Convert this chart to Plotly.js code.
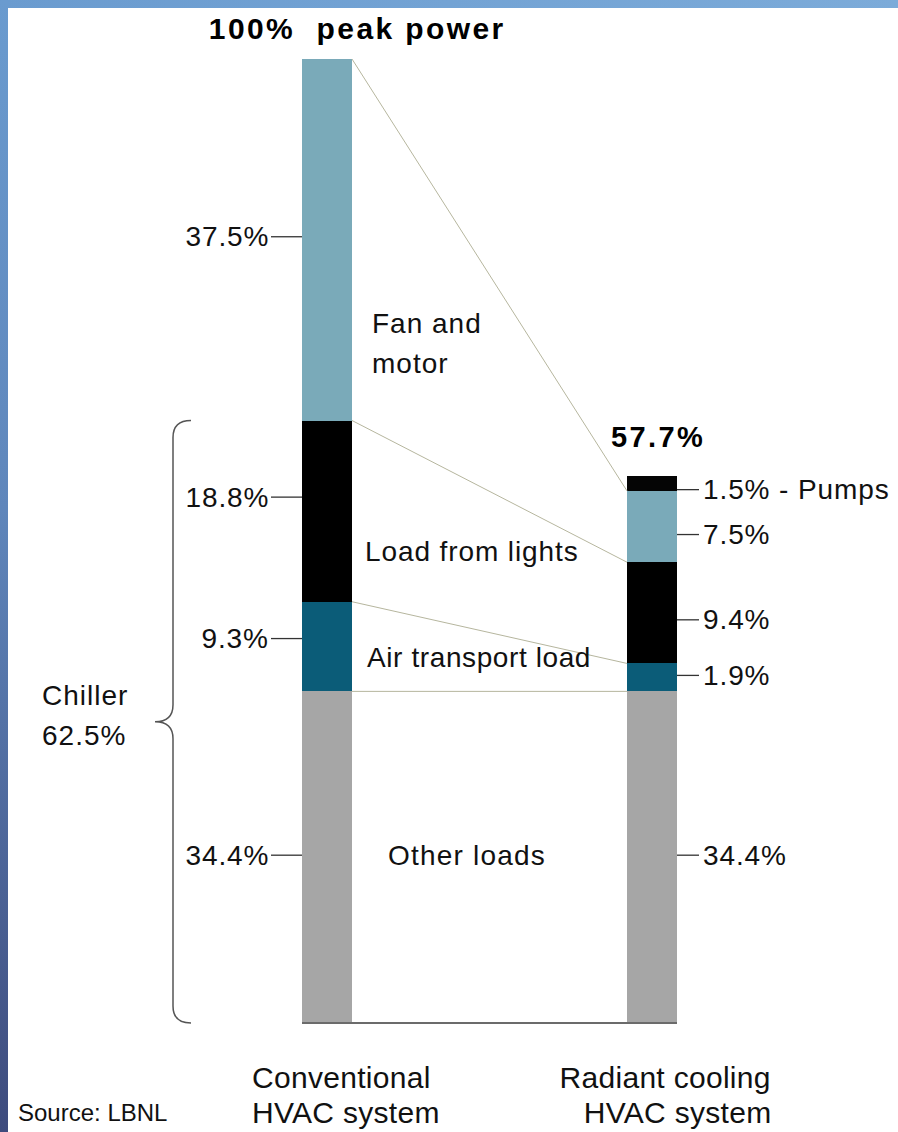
<!DOCTYPE html>
<html>
<head>
<meta charset="utf-8">
<script src="https://cdn.plot.ly/plotly-3.0.1.min.js"></script>
<style>
html,body{margin:0;padding:0;background:#fff;}
#chart{
  width:898px;height:1132px;
  background:
    linear-gradient(#ffffff,#ffffff) 8px 8px / calc(100% - 8px) calc(100% - 8px) no-repeat,
    linear-gradient(to bottom,#6a9bcf 0%,#5f86bb 45%,#3e4b7d 100%) 0 0 / 8px 100% no-repeat,
    linear-gradient(to right,#6a9bcf,#7cabd9) 0 0 / 100% 8px no-repeat;
}
</style>
</head>
<body>
<div id="chart"></div>
<script>
// ---------------- data ----------------
const systems = ['Conventional HVAC system', 'Radiant cooling HVAC system'];
const xPos = [0, 1];
const components = ['Other loads', 'Air transport load', 'Load from lights', 'Fan and motor', 'Pumps'];
const conventional = [34.4, 9.3, 18.8, 37.5, 0];
const radiant = [34.4, 2.9, 10.5, 7.4, 1.5];
const convLabels = ['34.4%', '9.3%', '18.8%', '37.5%'];
const radLabels = ['34.4%', '1.9%', '9.4%', '7.5%', '1.5% - Pumps'];
const convTotalLabel = '100%\u00a0 peak power';
const radTotalLabel = '57.7%';
const chillerLabel = ['Chiller', '62.5%'];
const sourceLabel = 'Source: LBNL';

// ---------------- styles / geometry ----------------
const colors = ['#a6a6a6', '#0b5c78', '#000000', '#7aaab9', '#050505'];
const W = 898, H = 1132;
const X0 = 327, XS = 325;     // pixel of x=0, pixels per x unit
const Y0 = 1023, YS = 9.64;   // pixel of y=0, pixels per percent
const xd = px => (px - X0) / XS;
const yd = py => (Y0 - py) / YS;
const barW = 50 / XS;
const FONT = 'Liberation Sans, Arial, sans-serif';
const convNudge = [2, 8, 14, 3];        // px, label fine-tuning
const radNudge = [2, 2, -7, -8, -6];

const cum = arr => { let s = 0; return arr.map(v => (s += v)); };
const cConv = cum(conventional);
const cRad = cum(radiant);

const traces = [];
// connector lines between matching segment tops
for (let k = 0; k < 4; k++) {
  traces.push({
    type: 'scatter', mode: 'lines', hoverinfo: 'skip',
    x: [xPos[0] + barW / 2, xPos[1] - barW / 2],
    y: [cConv[k], cRad[k]],
    line: {color: '#b6b69e', width: 1}
  });
}
// stacked bars
components.forEach((name, i) => {
  traces.push({
    type: 'bar', name: name,
    x: xPos, y: [conventional[i], radiant[i]],
    width: barW,
    marker: {color: colors[i], line: {width: 0}},
    hoverinfo: 'skip'
  });
});
// baseline
traces.push({
  type: 'scatter', mode: 'lines', hoverinfo: 'skip',
  x: [xPos[0] - barW / 2, xPos[1] + barW / 2], y: [0, 0],
  line: {color: '#6b6b6b', width: 2}
});

const shapes = [];
const annotations = [];
const spacing = [];
function addText(text, x, y, opts, ls) {
  annotations.push(Object.assign({
    text: text, x: x, y: y, xref: 'x', yref: 'y', showarrow: false,
    yanchor: 'middle', font: {family: FONT, size: 28, color: '#111'}
  }, opts));
  spacing.push(ls);
}

// left value labels with ticks
let start = 0;
convLabels.forEach((lab, i) => {
  const mid = start + conventional[i] / 2 + convNudge[i] / YS;
  start += conventional[i];
  shapes.push({type: 'line', xref: 'x', yref: 'y', x0: xd(271), x1: xPos[0] - barW / 2, y0: mid, y1: mid,
    line: {color: '#333', width: 1.3}});
  addText(lab, xd(271), mid, {xanchor: 'right', align: 'right'}, '0.9px');
});
// right value labels with ticks
start = 0;
radLabels.forEach((lab, i) => {
  const mid = start + radiant[i] / 2 + radNudge[i] / YS;
  start += radiant[i];
  shapes.push({type: 'line', xref: 'x', yref: 'y', x0: xPos[1] + barW / 2, x1: xd(699), y0: mid, y1: mid,
    line: {color: '#333', width: 1.3}});
  addText(lab, xd(701), mid, {xanchor: 'left', align: 'left'}, '0.9px');
});

// totals
addText(convTotalLabel, xd(357), yd(28), {xanchor: 'center', font: {family: FONT, size: 30, color: '#000', weight: 'bold'}}, '2.4px');
addText(radTotalLabel, xd(658), yd(437), {xanchor: 'center', font: {family: FONT, size: 29, color: '#000', weight: 'bold'}}, '2.4px');

// component names between bars
addText('Fan and', xd(370), yd(323), {xanchor: 'left', align: 'left'}, '1px');
addText('motor', xd(370), yd(363), {xanchor: 'left', align: 'left'}, '1px');
addText(components[2], xd(363), yd(551), {xanchor: 'left', align: 'left'}, '0.9px');
addText(components[1], xd(365), yd(657), {xanchor: 'left', align: 'left'}, '0.6px');
addText(components[0], xd(386), yd(855), {xanchor: 'left', align: 'left'}, '1.2px');

// chiller brace
const chillerTop = cConv[2];
const yT = Y0 - chillerTop * YS, yB = Y0, yM = (yT + yB) / 2;
const xE = 191, xS = 173, xT = 155;
const P = (px, py) => xd(px) + ',' + yd(py);
shapes.push({
  type: 'path', xref: 'x', yref: 'y',
  path: 'M' + P(xE, yT) + ' Q' + P(xS, yT) + ' ' + P(xS, yT + 17) +
        ' L' + P(xS, yM - 17) + ' Q' + P(xS, yM) + ' ' + P(xT, yM) +
        ' Q' + P(xS, yM) + ' ' + P(xS, yM + 17) +
        ' L' + P(xS, yB - 17) + ' Q' + P(xS, yB) + ' ' + P(xE, yB),
  line: {color: '#555', width: 1.5}
});
addText(chillerLabel[0], xd(40), yd(695), {xanchor: 'left', align: 'left'}, '1px');
addText(chillerLabel[1], xd(40), yd(735), {xanchor: 'left', align: 'left'}, '1px');

// system names
const convName = ['Conventional', 'HVAC system'];
const radName = ['Radiant cooling', 'HVAC system'];
addText(convName[0], xd(250), yd(1077), {xanchor: 'left', align: 'left', font: {family: FONT, size: 30, color: '#111'}}, '0.3px');
addText(convName[1], xd(250), yd(1112), {xanchor: 'left', align: 'left', font: {family: FONT, size: 30, color: '#111'}}, '0.3px');
addText(radName[0], xd(773), yd(1077), {xanchor: 'right', align: 'right', font: {family: FONT, size: 30, color: '#111'}}, '0.3px');
addText(radName[1], xd(773), yd(1112), {xanchor: 'right', align: 'right', font: {family: FONT, size: 30, color: '#111'}}, '0.3px');
addText(sourceLabel, xd(16), yd(1112), {xanchor: 'left', align: 'left', font: {family: FONT, size: 24, color: '#111'}}, '0px');

const layout = {
  width: W, height: H,
  margin: {l: 0, r: 0, t: 0, b: 0, pad: 0},
  paper_bgcolor: 'rgba(0,0,0,0)', plot_bgcolor: 'rgba(0,0,0,0)',
  showlegend: false,
  barmode: 'stack',
  xaxis: {range: [-X0 / XS, (W - X0) / XS], visible: false, fixedrange: true},
  yaxis: {range: [-(H - Y0) / YS, Y0 / YS], visible: false, fixedrange: true},
  shapes: shapes,
  annotations: annotations
};

Plotly.newPlot('chart', traces, layout, {displayModeBar: false, staticPlot: true}).then(() => {
  const groups = document.querySelectorAll('#chart .annotation');
  groups.forEach((g, i) => {
    const t = g.querySelector('.annotation-text');
    if (t && spacing[i]) t.style.letterSpacing = spacing[i];
  });
});
</script>
</body>
</html>
